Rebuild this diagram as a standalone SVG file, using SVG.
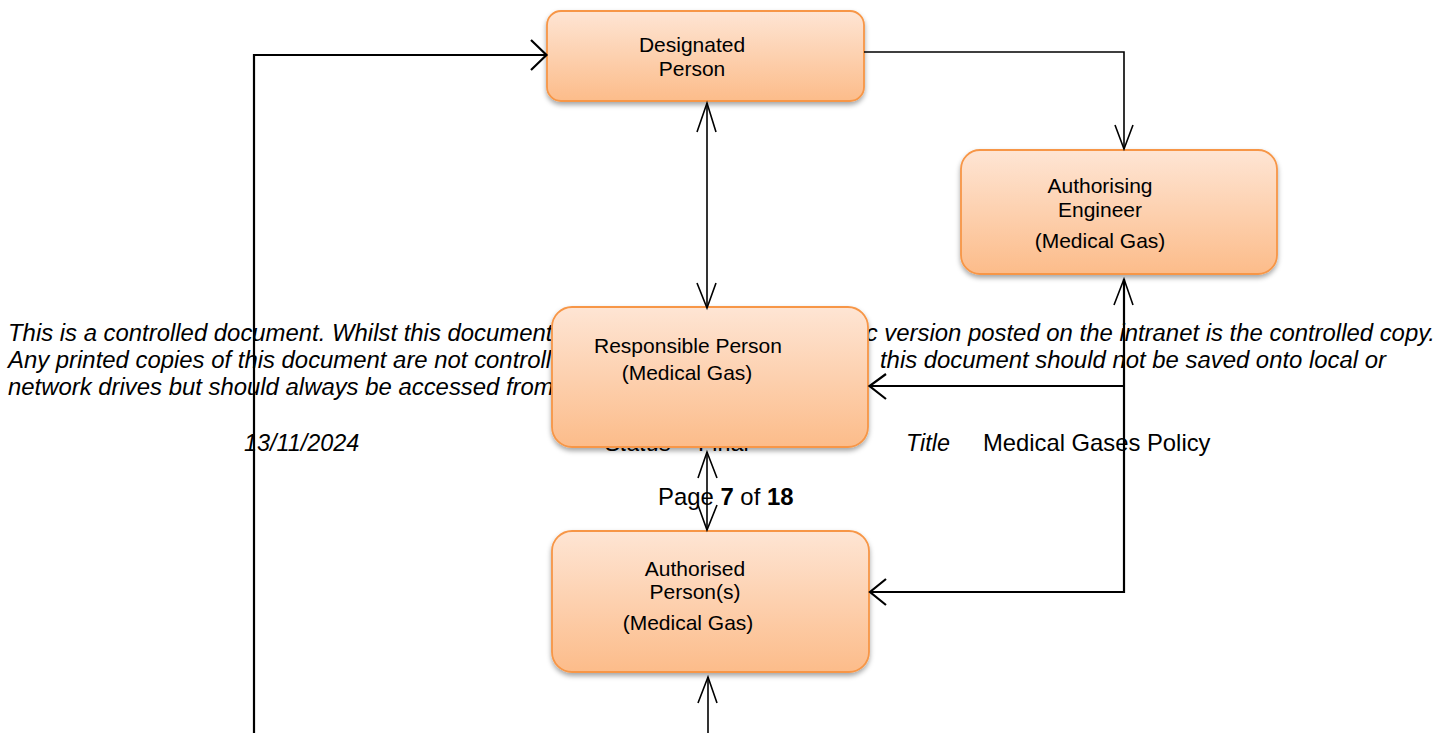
<svg xmlns="http://www.w3.org/2000/svg" width="1455" height="733" viewBox="0 0 1455 733">
<defs>
<linearGradient id="boxg" x1="0" y1="0" x2="0" y2="1">
<stop offset="0" stop-color="#FEE5D4"/>
<stop offset="1" stop-color="#FCBC8A"/>
</linearGradient>
<filter id="sh" x="-10%" y="-10%" width="120%" height="130%">
<feDropShadow dx="0" dy="3" stdDeviation="2.5" flood-color="#000" flood-opacity="0.35"/>
</filter>
</defs>
<style>
.box{fill:url(#boxg);stroke:#F79646;stroke-width:1.8;filter:url(#sh)}
.lbl{font-family:"Liberation Sans",Arial,sans-serif;font-size:21px;fill:#000;text-anchor:middle}
.ft{font-family:"Liberation Sans",Arial,sans-serif;font-size:23.9px;fill:#000}
.it{font-style:italic}
.ln{fill:none;stroke:#000;stroke-width:1.6}
.lnb{fill:none;stroke:#000;stroke-width:2.2}
</style>
<rect width="1455" height="733" fill="#fff"/>
<g id="footer">
<text class="ft it" x="8" y="341">This is a controlled document. Whilst this document</text>
<text class="ft it" x="1435" y="341" text-anchor="end">c version posted on the intranet is the controlled copy.</text>
<text class="ft it" x="8" y="368">Any printed copies of this document are not controlled</text>
<text class="ft it" x="1386" y="368" text-anchor="end">this document should not be saved onto local or</text>
<text class="ft it" x="8" y="395">network drives but should always be accessed from</text>
<text class="ft it" x="244" y="451" style="font-size:23.4px">13/11/2024</text>
<text class="ft it" x="605" y="451" style="font-size:23.4px">Status</text>
<text class="ft" x="698" y="451" style="font-size:23.4px">Final</text>
<text class="ft it" x="906" y="451" style="font-size:23.4px">Title</text>
<text class="ft" x="983" y="451" style="font-size:23.8px">Medical Gases Policy</text>
<text class="ft" x="658" y="505">Page <tspan font-weight="bold">7</tspan> of <tspan font-weight="bold">18</tspan></text>
</g>
<g id="designated-person">
<rect class="box" x="547" y="11" width="317" height="90" rx="14"/>
<text class="lbl" x="692" y="52">Designated</text>
<text class="lbl" x="692" y="76">Person</text>
</g>
<g id="authorising-engineer">
<rect class="box" x="961" y="150" width="316" height="124" rx="19"/>
<text class="lbl" x="1100" y="193">Authorising</text>
<text class="lbl" x="1100" y="217">Engineer</text>
<text class="lbl" x="1100" y="248">(Medical Gas)</text>
</g>
<g id="responsible-person">
<rect class="box" x="552" y="307" width="316" height="140" rx="20"/>
<text class="lbl" x="688" y="353">Responsible Person</text>
<text class="lbl" x="687" y="380">(Medical Gas)</text>
</g>
<g id="authorised-persons">
<rect class="box" x="552" y="531" width="317" height="141" rx="20"/>
<text class="lbl" x="695" y="576">Authorised</text>
<text class="lbl" x="695" y="599">Person(s)</text>
<text class="lbl" x="688" y="630">(Medical Gas)</text>
</g>
<g id="connectors">
<polyline class="lnb" points="254,733 254,55 546,55"/>
<polyline class="lnb" points="531,40 546.5,55 531,70"/>
<polyline class="ln" points="864,52 1124,52 1124,149"/>
<polyline class="ln" points="1115,125 1124,149 1133,125"/>
<line class="ln" x1="707" y1="103" x2="707" y2="307"/>
<polyline class="ln" points="697,132 707,103 716,132"/>
<polyline class="ln" points="697,283 707,308 716,283"/>
<line class="ln" x1="707" y1="452" x2="707" y2="530"/>
<polyline class="ln" points="698,478 707,452 717,478"/>
<polyline class="ln" points="698,505 707,530 717,505"/>
<line class="ln" x1="708" y1="733" x2="708" y2="677"/>
<polyline class="ln" points="698,703 708,677 717,703"/>
<polyline class="lnb" points="1124,279 1124,592 870,592"/>
<polyline class="ln" points="1114,305 1124,279 1133,305"/>
<line class="lnb" x1="1124" y1="386" x2="870" y2="386"/>
<polyline class="lnb" points="886,374 869.5,386 886,399"/>
<polyline class="lnb" points="886,579 870,592 886,605"/>
</g>
</svg>
